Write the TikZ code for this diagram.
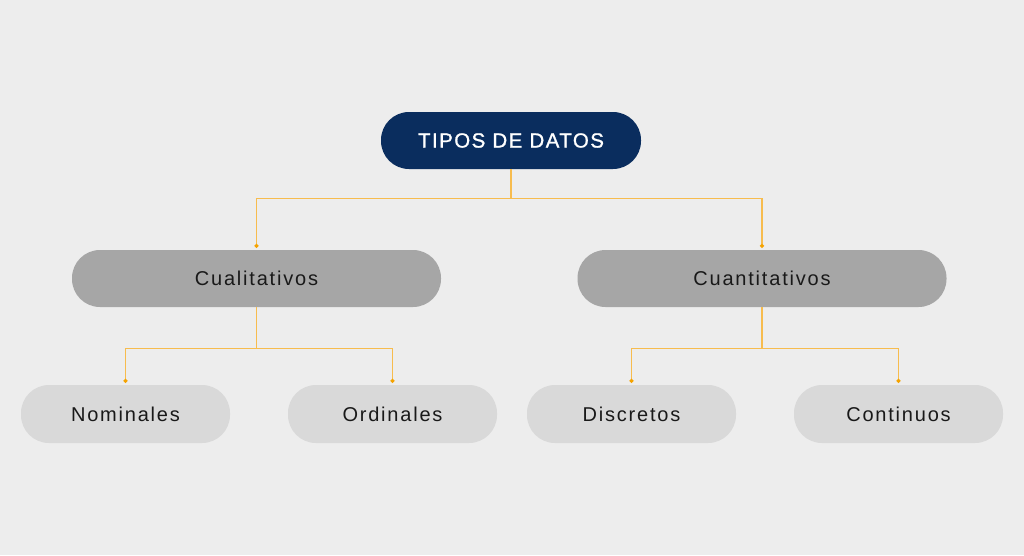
\documentclass[tikz,border=0pt]{standalone}
\usepackage{fontspec}
\setmainfont{Liberation Sans}[LetterSpace=9]
\newfontfamily\titulo{Liberation Sans}[LetterSpace=7, FakeBold=1.2]
\usetikzlibrary{arrows.meta}
\definecolor{fondo}{HTML}{EDEDED}
\definecolor{azul}{HTML}{0A2D5E}
\definecolor{grisA}{HTML}{A6A6A6}
\definecolor{grisB}{HTML}{D9D9D9}
\definecolor{naranja}{HTML}{F7BC4E}
\definecolor{punto}{HTML}{F5A300}
\tikzset{
  caja/.style={rectangle, rounded corners=28pt, inner sep=0pt, minimum height=57pt,
    font=\fontsize{20}{24}\selectfont, text=black!90},
  raiz/.style={caja, fill=azul, minimum width=260pt, text=white,
    font=\fontsize{20.5}{24}\titulo},
  rama/.style={caja, fill=grisA, minimum width=369pt},
  hoja/.style={caja, fill=grisB, minimum width=209pt, minimum height=58pt},
  enlace/.style={draw=naranja, line width=1.3pt, -{Circle[length=4pt, fill=punto, color=punto]}, shorten >=2pt}
}
\begin{document}
\begin{tikzpicture}[x=1pt, y=-1pt]
\fill[fondo] (0,0) rectangle (1024,555);
\useasboundingbox (0,0) rectangle (1024,555);
% nodos
\node[raiz] (tipos) at (511,140.5) {TIPOS DE DATOS};
\node[rama] (cual) at (256.5,278.5) {Cualitativos};
\node[rama] (cuan) at (762,278.5) {Cuantitativos};
\node[hoja] (nom) at (125.5,414) {Nominales};
\node[hoja] (ord) at (392.5,414) {Ordinales};
\node[hoja] (dis) at (631.5,414) {Discretos};
\node[hoja] (con) at (898.5,414) {Continuos};
% conectores
\draw[enlace] (tipos.south) -- ++(0,29) -| (cual.north);
\draw[enlace] (tipos.south) -- ++(0,29) -| (cuan.north);
\draw[enlace] (cual.south) -- ++(0,41) -| (nom.north);
\draw[enlace] (cual.south) -- ++(0,41) -| (ord.north);
\draw[enlace] (cuan.south) -- ++(0,41) -| (dis.north);
\draw[enlace] (cuan.south) -- ++(0,41) -| (con.north);
\end{tikzpicture}
\end{document}
